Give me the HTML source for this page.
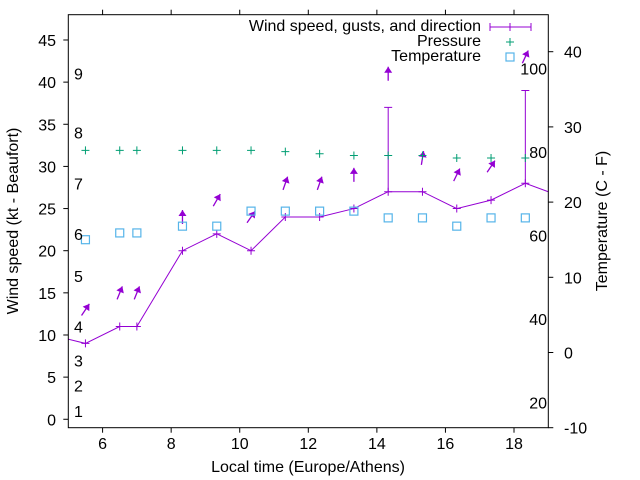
<!DOCTYPE html>
<html><head><meta charset="utf-8"><style>
html,body{margin:0;padding:0;background:#fff}
svg{display:block;font-family:"Liberation Sans",sans-serif}
</style></head><body>
<svg id="c" width="640" height="480" viewBox="0 0 640 480"></svg>
<script>
const times=[4.5,5.5,6.5,7.0,8.33,9.33,10.33,11.33,12.33,13.33,14.33,15.33,16.33,17.33,18.33,19.33];
const windSpeed=[10,9,11,11,20,22,20,24,24,25,27,27,25,26,28,26.5];
const gusts=[10,9,11,11,20,22,20,24,24,25,37,27,25,26,39,26.5];
const directionDeg=[30,34,22,22,0,30,35,19,19,0,0,9,26,34,25,25];
const pressureKt=[31.9,31.9,31.9,31.9,31.9,31.9,31.9,31.75,31.5,31.3,31.3,31.3,31.0,31.0,31.0,31.0];
const temperatureC=[15,15.0,15.9,15.9,16.8,16.8,18.8,18.8,18.8,18.8,17.9,17.9,16.8,17.9,17.9,17.9];
const xTicks=[6,8,10,12,14,16,18];
const yTicks=[0,5,10,15,20,25,30,35,40,45];
const y2Ticks=[-10,0,10,20,30,40];
const beaufortKt=[1,4,7,11,17,22,28,34,41];
const fahrenheit=[20,40,60,80,100];

const L=68.3,R=548.3,T=14.7,B=427.7;
const X=v=>L+(v-5)*(R-L)/14;
const Y=v=>B-(v+1)*(B-T)/49;
const Y2=v=>B-(v+10)*7.52;
const svg=document.getElementById('c');
const NS='http://www.w3.org/2000/svg';
function mk(tag,attrs,parent){const e=document.createElementNS(NS,tag);for(const k in attrs)e.setAttribute(k,attrs[k]);(parent||svg).appendChild(e);return e;}
function txt(s,x,y,anchor,parent){const t=mk('text',{x:x,y:y,'text-anchor':anchor,'font-size':16,fill:'#000'},parent);t.textContent=s;return t;}

const clip=mk('clipPath',{id:'pc'});mk('rect',{x:L,y:T,width:R-L,height:B-T},clip);
const plot=mk('g',{'clip-path':'url(#pc)'});



const frame=mk('rect',{x:L,y:T,width:R-L,height:B-T,fill:'none',stroke:'#000','stroke-width':1});



xTicks.forEach(v=>{
  mk('line',{x1:X(v),x2:X(v),y1:B,y2:B+5,stroke:'#000'});
  mk('line',{x1:X(v),x2:X(v),y1:T,y2:T-5,stroke:'#000'});
  const t=txt(String(v),X(v),449,'middle');
  
  
});
yTicks.forEach(v=>{
  mk('line',{x1:L-5,x2:L,y1:Y(v),y2:Y(v),stroke:'#000'});
  const t=txt(String(v),56,Y(v)+6,'end');
  
  
});
y2Ticks.forEach(v=>{
  mk('line',{x1:R,x2:R+5,y1:Y2(v),y2:Y2(v),stroke:'#000'});
  const t=txt(String(v),564,Y2(v)+6,'start');
  
  
});
beaufortKt.forEach((v,i)=>{
  const t=txt(String(i+1),74,Y(v)+6,'start');
  
  
});
fahrenheit.forEach(v=>{
  const t=txt(String(v),547,Y2((v-32)*5/9)+6,'end');
  
  
});

const pts=times.map((t,i)=>X(t)+','+Y(windSpeed[i])).join(' ');
const wl=mk('polyline',{points:pts,fill:'none',stroke:'#9400d3','stroke-width':1},plot);


times.forEach((t,i)=>{
  const x=X(t),y=Y(windSpeed[i]);
  mk('path',{d:`M${x-4},${y}H${x+4}M${x},${y-4}V${y+4}`,stroke:'#9400d3',fill:'none'},plot);
  if(gusts[i]>windSpeed[i]){
    const g=mk('path',{d:`M${x},${y}V${Y(gusts[i])}M${x-4},${Y(gusts[i])}H${x+4}`,stroke:'#9400d3',fill:'none'},plot);
    
    
  }
  const cy=Y(Math.max(windSpeed[i],gusts[i])+4),a=directionDeg[i]*Math.PI/180;
  const dx=Math.sin(a)*7,dy=-Math.cos(a)*7;
  const tx=x+dx,ty=cy+dy,bx=x-dx,by=cy-dy;
  const ux=dx/7,uy=dy/7,px=-uy,py=ux;
  const ar=mk('g',{},plot);
  
  
  mk('line',{x1:bx,y1:by,x2:tx,y2:ty,stroke:'#9400d3','stroke-width':1.3},ar);
  mk('polygon',{points:`${tx},${ty} ${tx-ux*6+px*4},${ty-uy*6+py*4} ${tx-ux*6-px*4},${ty-uy*6-py*4}`,fill:'#9400d3'},ar);
});
times.forEach((t,i)=>{
  const x=X(t),y=Y(pressureKt[i]);
  const p=mk('path',{d:`M${x-4},${y}H${x+4}M${x},${y-4}V${y+4}`,stroke:'#009e73',fill:'none'},plot);
  
  
});
times.forEach((t,i)=>{
  const x=X(t),y=Y2(temperatureC[i]);
  const s=mk('rect',{x:x-4,y:y-4,width:8,height:8,fill:'none',stroke:'#56b4e9','stroke-width':1.2},plot);
  
  
});

const lg=mk('g',{});


txt('Wind speed, gusts, and direction',481,31,'end',lg);
mk('path',{d:'M490,27H531M490,23V31M531,23V31M510,23V31',stroke:'#9400d3',fill:'none'},lg);
txt('Pressure',481,46,'end',lg);
mk('path',{d:'M506,42H514M510,38V46',stroke:'#009e73',fill:'none'},lg);
txt('Temperature',481,61,'end',lg);
mk('rect',{x:506,y:53,width:8,height:8,fill:'none',stroke:'#56b4e9','stroke-width':1.2},lg);

const xt=txt('Local time (Europe/Athens)',308,472,'middle');


const yt=txt('Wind speed (kt - Beaufort)',0,0,'middle');
yt.setAttribute('transform','translate(18,221) rotate(-90)');


const y2t=txt('Temperature (C - F)',0,0,'middle');
y2t.setAttribute('transform','translate(607,221) rotate(-90)');


</script>
</body></html>
